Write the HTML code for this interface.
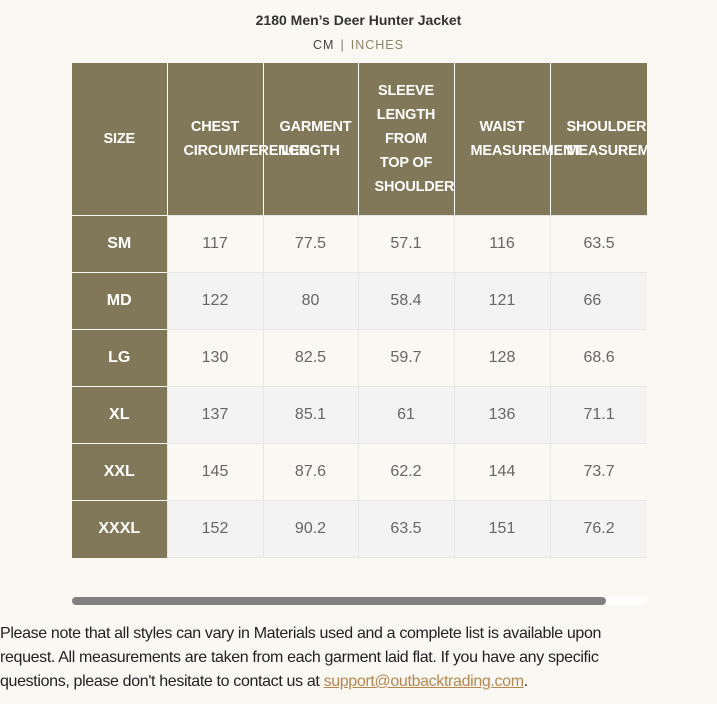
<!DOCTYPE html>
<html><head><meta charset="utf-8">
<style>
body{margin:0;width:717px;height:704px;background:#f9f8f3;font-family:"Liberation Sans",sans-serif;position:relative;overflow:hidden}
#title{position:absolute;top:12px;left:0;width:717px;text-align:center;font-weight:bold;font-size:14px;color:#333}
#units{position:absolute;top:38px;left:0;width:717px;text-align:center;font-size:12.5px;letter-spacing:1px;color:#444}
#units .sep{color:#777;margin:0 6px}
#units .inch{color:#8a8465}
#wrap{position:absolute;left:72px;top:63px;width:575px;height:495px;overflow:hidden}
table{border-collapse:collapse;table-layout:fixed;width:670px}
th{background:#807858;color:#fff;font-size:14.5px;font-weight:bold;height:152px;padding:0 16px;line-height:24px;border-left:1px solid #fff;white-space:normal;text-align:center;overflow:visible;word-break:keep-all;letter-spacing:-0.2px}
th:first-child{border-left:none}
td{height:56px;text-align:center;font-size:16px;color:#666;border:1px solid #e6e6e6;padding:0}
td.size{background:#807858;color:#fff;font-weight:bold;border:none;border-top:1px solid #f9f8f3}
tr.odd td{background:#f9f8f3}tr.even td{background:#f3f3f3}
tr td.size{background:#807858}
#track{position:absolute;left:72px;top:597px;width:575px;height:8px;background:#fff;border-radius:4px}
#thumb{position:absolute;left:72px;top:597px;width:534px;height:8px;background:#808080;border-radius:4px}
#note{position:absolute;left:0;top:622px;font-size:16px;line-height:24px;color:#222;letter-spacing:-0.35px;white-space:nowrap}
#note a{color:#b8864e;text-decoration:underline}
</style></head><body>
<div id="title">2180 Men’s Deer Hunter Jacket</div>
<div id="units"><span>CM</span><span class="sep">|</span><span class="inch">INCHES</span></div>
<div id="wrap">
<table id="tbl">
<colgroup><col style="width:95px"><col style="width:96px"><col style="width:95px"><col style="width:96px"><col style="width:96px"><col style="width:192px"></colgroup>
<thead><tr id="hdr"></tr></thead><tbody id="body"></tbody></table>
</div>
<div id="track"></div>
<div id="thumb"></div>
<div id="note">Please note that all styles can vary in Materials used and a complete list is available upon<br>request. All measurements are taken from each garment laid flat. If you have any specific<br>questions, please don't hesitate to contact us at <a>support@outbacktrading.com</a>.</div>
<script>
const headers=["SIZE","CHEST CIRCUMFERENCE","GARMENT LENGTH","SLEEVE LENGTH FROM TOP OF SHOULDER","WAIST MEASUREMENT","SHOULDER MEASUREMENT"];
const sizes=["SM","MD","LG","XL","XXL","XXXL"];
const chest=[117,122,130,137,145,152];
const garment=[77.5,80,82.5,85.1,87.6,90.2];
const sleeve=[57.1,58.4,59.7,61,62.2,63.5];
const waist=[116,121,128,136,144,151];
const shoulder=[63.5,66,68.6,71.1,73.7,76.2];
const hdr=document.getElementById('hdr');
headers.forEach((h,i)=>{const th=document.createElement('th');th.textContent=h;


if(i===5){th.style.textAlign='left';}
hdr.appendChild(th);});
const body=document.getElementById('body');
const cols=[chest,garment,sleeve,waist,shoulder];
sizes.forEach((s,r)=>{const tr=document.createElement('tr');tr.className=r%2?'even':'odd';


const td=document.createElement('td');td.className='size';td.textContent=s;


tr.appendChild(td);
cols.forEach((c,j)=>{const d=document.createElement('td');d.textContent=c[r];
if(j===4){d.style.textAlign='left';d.style.paddingLeft='33px';}


tr.appendChild(d);});
body.appendChild(tr);});
</script>
</body></html>
